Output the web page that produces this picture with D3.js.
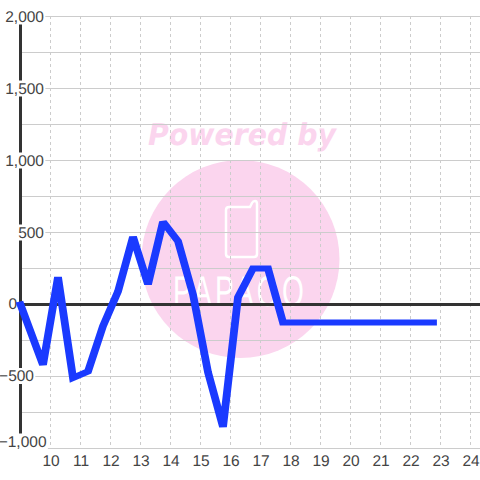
<!DOCTYPE html>
<html><head><meta charset="utf-8">
<script src="https://cdn.jsdelivr.net/npm/d3@7/dist/d3.min.js"></script>
<style>html,body{margin:0;padding:0;background:#fff}svg{display:block}text{font-family:"Liberation Sans",Arial,sans-serif;text-rendering:geometricPrecision}</style>
</head><body><svg id="c" width="480" height="480"></svg>
<script>
const hours = [9,9.75,10.25,10.75,11.25,11.75,12.25,12.75,13.25,13.75,14.25,14.75,15.25,15.75,16.25,16.75,17.25,17.75,18.25,18.75,19.25,19.75,20.25,20.75,21.25,21.75,22.25,22.75];
const values = [0,-420,190,-510,-465,-150,90,470,140,575,440,70,-470,-850,50,250,250,-125,-125,-125,-125,-125,-125,-125,-125,-125,-125,-125];
const xTicks = [10,11,12,13,14,15,16,17,18,19,20,21,22,23,24];
const yLabelTicks = [2000,1500,1000,500,0,-500,-1000];
const yGridTicks = [2000,1750,1500,1250,1000,750,500,250,0,-250,-500,-750,-1000];
const watermarkTop = "Powered by";
const watermarkLogo = "PAPAOO";

const svg = d3.select("#c");
const x = d3.scaleLinear().domain([9,24]).range([20.5,470.5]);
const y = d3.scaleLinear().domain([-1000,2000]).range([448.5,16.5]);
const fmt = d3.format(",");

// watermark
const wm = svg.append("g");
wm.append("circle").attr("cx",240.5).attr("cy",259).attr("r",99).attr("fill","#fbd5ee");
wm.append("text").attr("x",242).attr("y",145).attr("text-anchor","middle")
  .style("font-family","'DejaVu Sans'").attr("font-size",30).attr("font-weight","bold").attr("font-style","italic")
  .attr("textLength",188).attr("lengthAdjust","spacingAndGlyphs")
  .attr("fill","#fbd5ee").text(watermarkTop);
wm.append("path").attr("d","M229 207 H250 L252 203 Q253 201 255 201 Q257 201 257 204 V254 Q257 257 254 257 H229 Q226 257 226 254 V210 Q226 207 229 207 Z")
  .attr("fill","none").attr("stroke","#fff").attr("stroke-width",2.5);
wm.append("text").attr("x",240).attr("y",305.5).attr("text-anchor","middle")
  .style("font-family","'Liberation Sans Narrow','Liberation Sans'").style("letter-spacing","5px")
  .attr("font-size",43).attr("textLength",134).attr("lengthAdjust","spacingAndGlyphs")
  .attr("fill","#fff").text(watermarkLogo);

// grid
svg.append("g").selectAll("line").data(yGridTicks).join("line")
  .attr("x1",20).attr("x2",480).attr("y1",d=>y(d)).attr("y2",d=>y(d))
  .attr("stroke","#ccc").attr("stroke-width",1);
svg.append("g").selectAll("line").data(xTicks).join("line")
  .attr("x1",d=>x(d)).attr("x2",d=>x(d)).attr("y1",16).attr("y2",448)
  .attr("stroke","#ccc").attr("stroke-width",1).attr("stroke-dasharray","3,3");

// axes
svg.append("line").attr("x1",x(9)).attr("x2",x(9)).attr("y1",y(2000)).attr("y2",y(-1000))
  .attr("stroke","#333").attr("stroke-width",3);
svg.append("line").attr("x1",20).attr("x2",480).attr("y1",y(0)).attr("y2",y(0))
  .attr("stroke","#333").attr("stroke-width",3);

// y labels, each on a white plate that hides the axis behind it
const labelBox = d => d===-1000 ? {cy:441.5,right:46.5} : d===0 ? {cy:304,right:17} : d===-500 ? {cy:376,right:34} : {cy:y(d),right:44};
const yl = svg.append("g").selectAll("g").data(yLabelTicks).join("g");
yl.append("text").attr("x",d=>labelBox(d).right).attr("y",d=>labelBox(d).cy).attr("dy","0.35em")
  .attr("text-anchor","end").attr("font-size",15.5).attr("fill","#444").text(d=>fmt(d));
yl.each(function(d){
  const t=d3.select(this).select("text"), b=t.node().getBBox();
  if(d!==0) d3.select(this).insert("rect","text").attr("x",0).attr("width",b.x+b.width+1)
    .attr("y",labelBox(d).cy-8).attr("height",16).attr("fill","#fff");
});

// x labels
svg.append("g").selectAll("text").data(xTicks).join("text")
  .attr("x",d=>x(d)+.5).attr("y",466).attr("text-anchor","middle")
  .attr("font-size",15.5).attr("fill","#444").text(d=>d);

// series: pen is wider horizontally than vertically, as in the reference
const penX = 1.3;
svg.append("g").attr("transform",`scale(${penX},1)`).append("path")
  .attr("d",d3.line().x((d,i)=>x(hours[i])/penX).y(d=>y(d))(values))
  .attr("fill","none").attr("stroke","#1a3aff").attr("stroke-width",6)
  .attr("stroke-linejoin","miter").attr("stroke-miterlimit",2).attr("stroke-linecap","square");
</script></body></html>
